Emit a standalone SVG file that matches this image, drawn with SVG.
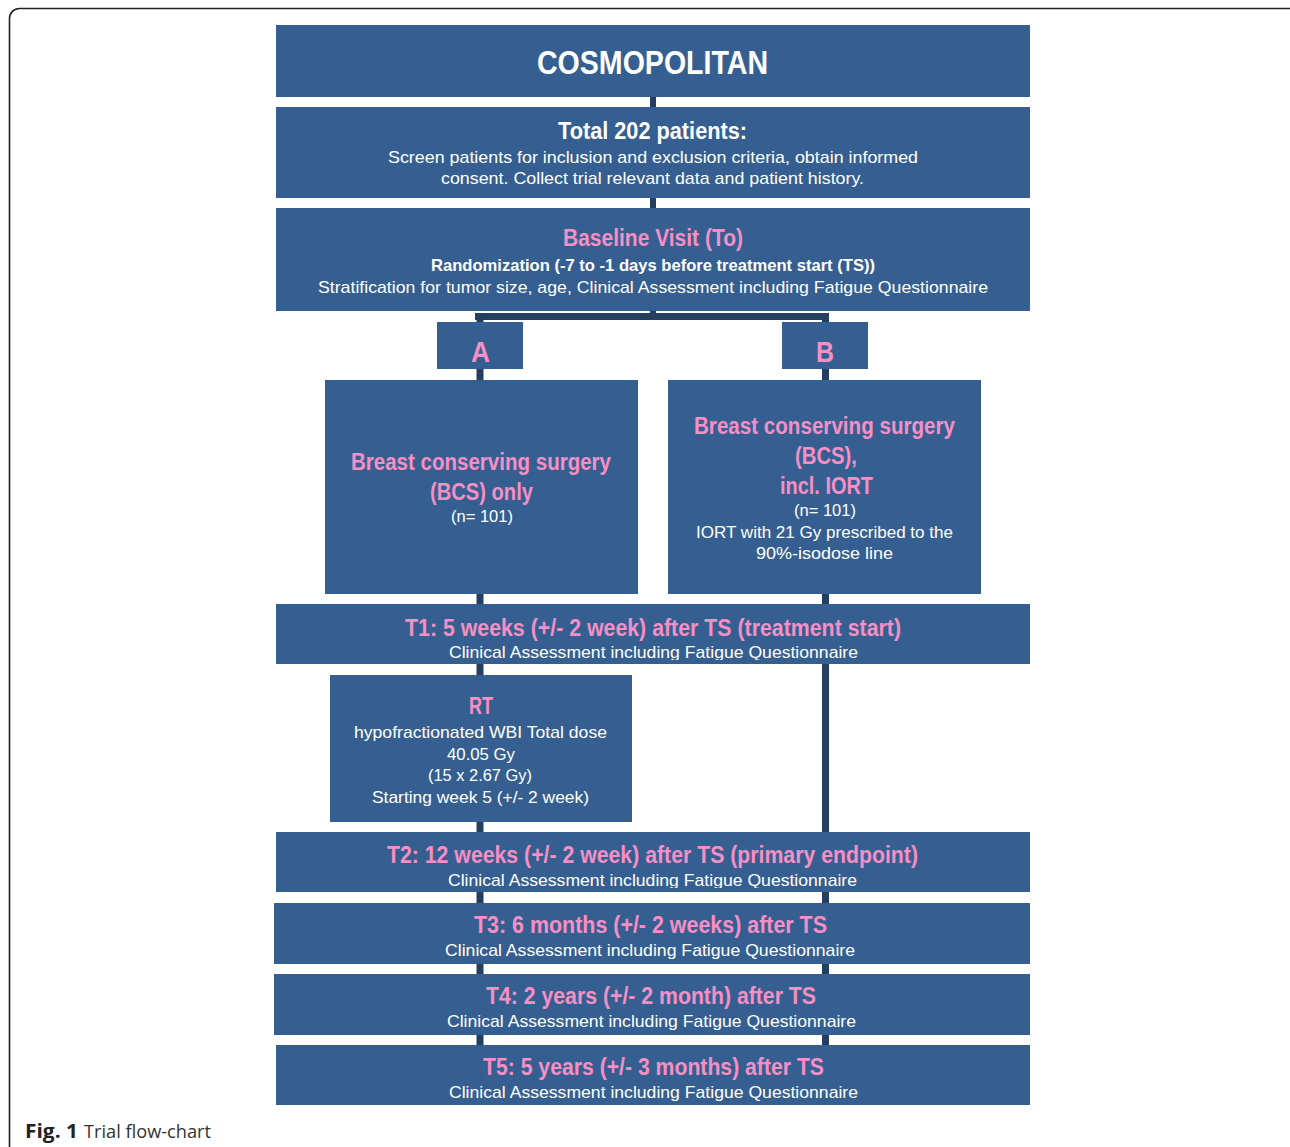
<svg xmlns="http://www.w3.org/2000/svg" width="1290" height="1147" viewBox="0 0 1290 1147">
<style>
.box{fill:#365f91}
.con{fill:#243f60}
text{font-family:"Liberation Sans","Noto Sans",sans-serif;text-anchor:middle}
.w{fill:#ffffff}
.p{fill:#f58fc4}
.h{font-size:23px;font-weight:bold}
.s{font-size:17px}
.b{font-weight:bold}
</style>
<defs>
<clipPath id="c1"><rect x="276" y="604" width="754" height="56"/></clipPath>
<clipPath id="c2"><rect x="276" y="832" width="754" height="56"/></clipPath>
<clipPath id="c3"><rect x="274" y="903" width="756" height="56"/></clipPath>
<clipPath id="c4"><rect x="274" y="974" width="756" height="56"/></clipPath>
<clipPath id="c5"><rect x="276" y="1045" width="754" height="56"/></clipPath>
</defs>
<rect x="9.5" y="8.5" width="1300" height="1160" rx="10" fill="none" stroke="#222" stroke-width="1.6"/>
<g id="connectors">
<rect class="con" x="650" y="95" width="6" height="222"/>
<rect class="con" x="475" y="313" width="354" height="7"/>
<rect class="con" x="476.5" y="313" width="7" height="735"/>
<rect class="con" x="822" y="313" width="7" height="735"/>
</g>
<g id="cosmopolitan">
<rect class="box" x="276" y="25" width="754" height="72"/>
<text class="w b" x="652.5" y="74" font-size="34" textLength="231" lengthAdjust="spacingAndGlyphs">COSMOPOLITAN</text>
</g>
<g id="total">
<rect class="box" x="276" y="107" width="754" height="91"/>
<text class="w h" x="652.5" y="139" textLength="189" lengthAdjust="spacingAndGlyphs">Total 202 patients:</text>
<text class="w s" x="653" y="163" textLength="530" lengthAdjust="spacingAndGlyphs">Screen patients for inclusion and exclusion criteria, obtain informed</text>
<text class="w s" x="652.5" y="184" textLength="423" lengthAdjust="spacingAndGlyphs">consent. Collect trial relevant data and patient history.</text>
</g>
<g id="baseline">
<rect class="box" x="276" y="208" width="754" height="103"/>
<text class="p h" x="653" y="246" textLength="180" lengthAdjust="spacingAndGlyphs">Baseline Visit (To)</text>
<text class="w s b" x="653" y="271" textLength="444" lengthAdjust="spacingAndGlyphs">Randomization (-7 to -1 days before treatment start (TS))</text>
<text class="w s" x="653" y="293" textLength="670" lengthAdjust="spacingAndGlyphs">Stratification for tumor size, age, Clinical Assessment including Fatigue Questionnaire</text>
</g>
<g id="armA">
<rect class="box" x="437" y="322" width="86" height="47"/>
<text class="p b" x="480.5" y="362" font-size="29" textLength="19" lengthAdjust="spacingAndGlyphs">A</text>
</g>
<g id="armB">
<rect class="box" x="782" y="322" width="86" height="47"/>
<text class="p b" x="825" y="362" font-size="29" textLength="18" lengthAdjust="spacingAndGlyphs">B</text>
</g>
<g id="bcs-only">
<rect class="box" x="325" y="380" width="313" height="214"/>
<text class="p h" x="481" y="470" textLength="260" lengthAdjust="spacingAndGlyphs">Breast conserving surgery</text>
<text class="p h" x="481.5" y="500" textLength="103" lengthAdjust="spacingAndGlyphs">(BCS) only</text>
<text class="w s" x="482" y="522" textLength="62" lengthAdjust="spacingAndGlyphs">(n= 101)</text>
</g>
<g id="bcs-iort">
<rect class="box" x="668" y="380" width="313" height="214"/>
<text class="p h" x="824.5" y="434" textLength="261" lengthAdjust="spacingAndGlyphs">Breast conserving surgery</text>
<text class="p h" x="826" y="464" textLength="62" lengthAdjust="spacingAndGlyphs">(BCS),</text>
<text class="p h" x="826.5" y="494" textLength="93" lengthAdjust="spacingAndGlyphs">incl. IORT</text>
<text class="w s" x="825" y="516" textLength="62" lengthAdjust="spacingAndGlyphs">(n= 101)</text>
<text class="w s" x="824.5" y="538" textLength="257" lengthAdjust="spacingAndGlyphs">IORT with 21 Gy prescribed to the</text>
<text class="w s" x="824.5" y="559" textLength="137" lengthAdjust="spacingAndGlyphs">90%-isodose line</text>
</g>
<g id="t1">
<rect class="box" x="276" y="604" width="754" height="60"/>
<text class="p h" x="653" y="636" textLength="496" lengthAdjust="spacingAndGlyphs">T1: 5 weeks (+/- 2 week) after TS (treatment start)</text>
<text class="w s" x="653.5" y="658" clip-path="url(#c1)" textLength="409" lengthAdjust="spacingAndGlyphs">Clinical Assessment including Fatigue Questionnaire</text>
</g>
<g id="rt">
<rect class="box" x="330" y="675" width="302" height="147"/>
<text class="p h" x="481" y="714" textLength="24" lengthAdjust="spacingAndGlyphs">RT</text>
<text class="w s" x="480.5" y="738" textLength="253" lengthAdjust="spacingAndGlyphs">hypofractionated WBI Total dose</text>
<text class="w s" x="481" y="760" textLength="68" lengthAdjust="spacingAndGlyphs">40.05 Gy</text>
<text class="w s" x="480" y="781" textLength="104" lengthAdjust="spacingAndGlyphs">(15 x 2.67 Gy)</text>
<text class="w s" x="480.5" y="803" textLength="217" lengthAdjust="spacingAndGlyphs">Starting week 5 (+/- 2 week)</text>
</g>
<g id="t2">
<rect class="box" x="276" y="832" width="754" height="60"/>
<text class="p h" x="652.5" y="863" textLength="531" lengthAdjust="spacingAndGlyphs">T2: 12 weeks (+/- 2 week) after TS (primary endpoint)</text>
<text class="w s" x="652.5" y="886" clip-path="url(#c2)" textLength="409" lengthAdjust="spacingAndGlyphs">Clinical Assessment including Fatigue Questionnaire</text>
</g>
<g id="t3">
<rect class="box" x="274" y="903" width="756" height="61"/>
<text class="p h" x="650.5" y="933" textLength="353" lengthAdjust="spacingAndGlyphs">T3: 6 months (+/- 2 weeks) after TS</text>
<text class="w s" x="650" y="956" clip-path="url(#c3)" textLength="410" lengthAdjust="spacingAndGlyphs">Clinical Assessment including Fatigue Questionnaire</text>
</g>
<g id="t4">
<rect class="box" x="274" y="974" width="756" height="61"/>
<text class="p h" x="651" y="1004" textLength="330" lengthAdjust="spacingAndGlyphs">T4: 2 years (+/- 2 month) after TS</text>
<text class="w s" x="651.5" y="1027" clip-path="url(#c4)" textLength="409" lengthAdjust="spacingAndGlyphs">Clinical Assessment including Fatigue Questionnaire</text>
</g>
<g id="t5">
<rect class="box" x="276" y="1045" width="754" height="60"/>
<text class="p h" x="653.5" y="1075" textLength="341" lengthAdjust="spacingAndGlyphs">T5: 5 years (+/- 3 months) after TS</text>
<text class="w s" x="653.5" y="1098" clip-path="url(#c5)" textLength="409" lengthAdjust="spacingAndGlyphs">Clinical Assessment including Fatigue Questionnaire</text>
</g>
<g id="caption">
<text x="25" y="1138" font-size="19" font-weight="bold" fill="#222" style="text-anchor:start;font-family:'Open Sans','Liberation Sans',sans-serif" textLength="53" lengthAdjust="spacingAndGlyphs">Fig. 1</text>
<text x="84" y="1138" font-size="19" fill="#333" style="text-anchor:start;font-family:'Open Sans','Liberation Sans',sans-serif" textLength="127" lengthAdjust="spacingAndGlyphs">Trial flow-chart</text>
</g>
</svg>
